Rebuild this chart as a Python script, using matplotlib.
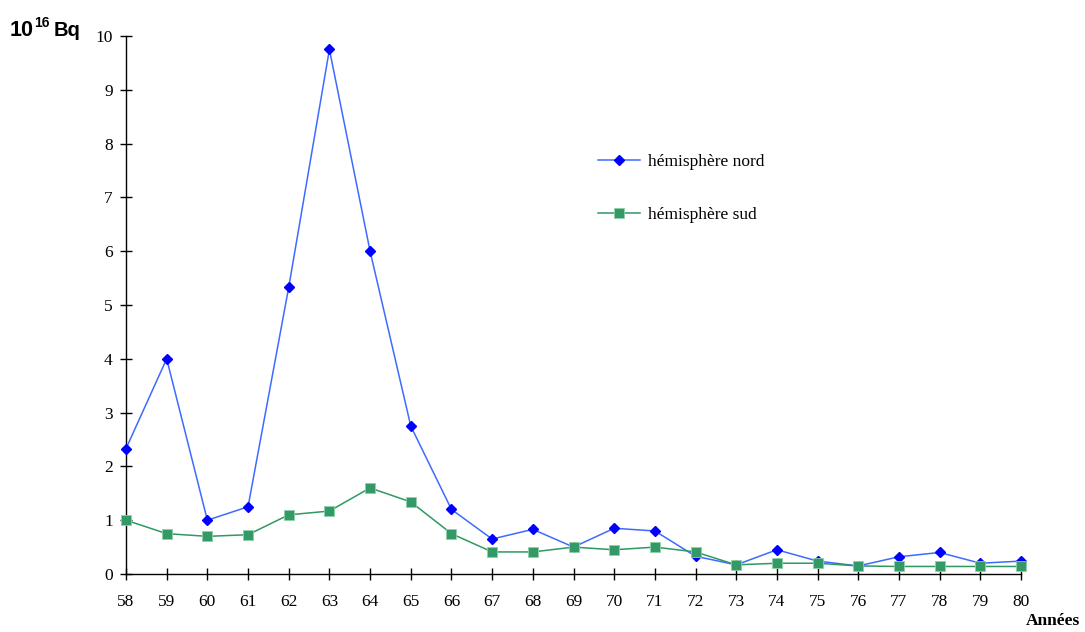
import matplotlib
matplotlib.use("Agg")
import matplotlib.pyplot as plt

years = list(range(58, 81))
year_labels = [str(y) for y in years]
nord = [2.33, 4.0, 1.0, 1.25, 5.33, 9.75, 6.0, 2.75, 1.2, 0.65, 0.83, 0.5, 0.85, 0.8,
        0.33, 0.17, 0.45, 0.24, 0.15, 0.32, 0.4, 0.2, 0.24]
sud = [1.0, 0.75, 0.7, 0.73, 1.1, 1.17, 1.6, 1.34, 0.75, 0.41, 0.41, 0.5, 0.45, 0.5,
       0.41, 0.17, 0.2, 0.2, 0.15, 0.14, 0.14, 0.14, 0.14]
y_ticks = list(range(0, 11))

fig = plt.figure(figsize=(10.85, 6.32), dpi=100)
ax = fig.add_axes([126/1085, 58/632, (1021-126)/1085, (574-36)/632])

ax.plot(years, nord, color="#3D6BFF", lw=1.1, marker="D", ms=5.0,
        mfc="#0000FF", mec="#0000FF", label="hémisphère nord", clip_on=False, zorder=3)
ax.plot(years, sud, color="#2E9960", lw=1.1, marker="s", ms=6.5,
        mfc="#339966", mec="#8FD0A8", mew=0.6, label="hémisphère sud", clip_on=False, zorder=3)

ax.set_xlim(58, 80)
ax.set_ylim(0, 10)
ax.set_xticks(years)
ax.set_xticklabels(year_labels)
ax.set_yticks(y_ticks)
for s in ["top", "right"]:
    ax.spines[s].set_visible(False)
for s in ["left", "bottom"]:
    ax.spines[s].set_linewidth(1.0)
    ax.spines[s].set_color("black")
ax.tick_params(axis="both", direction="inout", length=9, width=1.0,
               labelsize=12.5, colors="black")
ax.tick_params(axis="x", pad=10)
ax.tick_params(axis="y", pad=5)
for lab in ax.get_xticklabels() + ax.get_yticklabels():
    lab.set_fontfamily("Liberation Serif")

leg = ax.legend(loc="upper left", bbox_to_anchor=(0.51, 0.81), frameon=False,
                prop={"family": "Liberation Serif", "size": 12.5},
                handlelength=2.4, labelspacing=2.1, handletextpad=0.5)

fig.text(10/1085, 1 - 30/632, "10", fontfamily="Liberation Sans",
         fontweight="bold", fontsize=15.5, va="center", ha="left")
fig.text(34/1085, 1 - 23/632, "16", fontfamily="Liberation Sans",
         fontweight="bold", fontsize=10, va="center", ha="left")
fig.text(54/1085, 1 - 30/632, "Bq", fontfamily="Liberation Sans",
         fontweight="bold", fontsize=14.5, va="center", ha="left")
fig.text(1080/1085, 1 - 621/632, "Années", fontfamily="Liberation Serif",
         fontweight="bold", fontsize=12.5, va="center", ha="right")

fig.savefig("out.png", dpi=100)
